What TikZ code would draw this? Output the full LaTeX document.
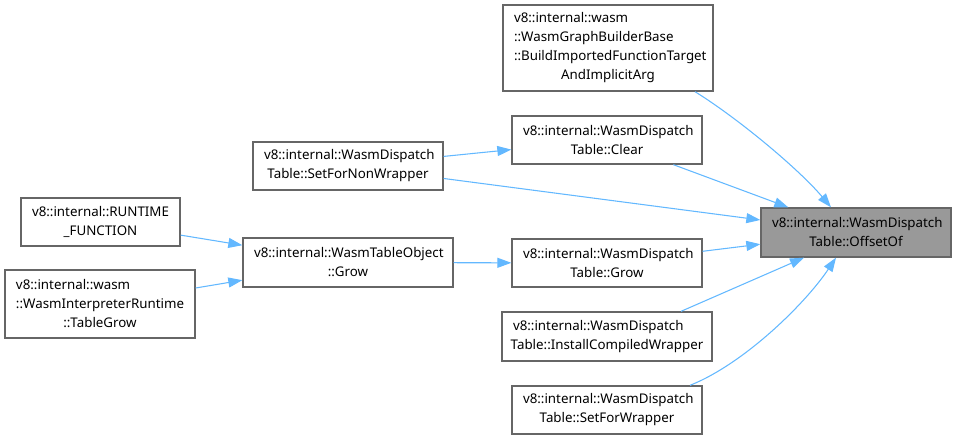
\documentclass[tikz,border=0pt]{standalone}
\usepackage{fontspec}
\setmainfont{Noto Sans}
\usepackage{xcolor}
\definecolor{boxline}{HTML}{666666}
\definecolor{boxfill}{HTML}{999999}
\definecolor{callline}{HTML}{63B8FF}
\usepackage{tikz}
\usetikzlibrary{arrows.meta, positioning, calc}
\newcommand{\lastln}[1]{\makebox[\linewidth]{#1}}

\begin{document}
\begin{tikzpicture}[x=0.75pt, y=-0.75pt, >={Triangle[length=10.5pt, width=7.5pt]},
    fn/.style={draw=boxline, fill=white, line width=1pt, align=left,
               inner xsep=8.25pt, inner ysep=0pt, minimum height=36pt,
               font=\fontsize{10}{14.25}\selectfont},
    call/.style={->, draw=callline, line width=0.8pt}]
  \useasboundingbox (0,0) rectangle (957,440);

  \node[fn, fill=boxfill, text width=126pt, minimum height=36.75pt] (offsetof) at (856,232.5)
    {v8::internal::WasmDispatch\\\lastln{Table::OffsetOf}};

  \node[fn, text width=141pt, minimum height=64.5pt] (build) at (608,48)
    {v8::internal::wasm\\::WasmGraphBuilderBase\\::BuildImportedFunctionTarget\\\lastln{AndImplicitArg}};
  \node[fn, text width=126pt] (clear) at (607,140)
    {v8::internal::WasmDispatch\\\lastln{Table::Clear}};
  \node[fn, text width=126pt] (dgrow) at (607,263)
    {v8::internal::WasmDispatch\\\lastln{Table::Grow}};
  \node[fn, text width=141pt, minimum height=36.75pt] (install) at (607,336.5)
    {v8::internal::WasmDispatch\\\lastln{Table::InstallCompiledWrapper}};
  \node[fn, text width=126pt] (sfw) at (607,410)
    {v8::internal::WasmDispatch\\\lastln{Table::SetForWrapper}};

  \node[fn, text width=126pt] (sfnw) at (348,166)
    {v8::internal::WasmDispatch\\\lastln{Table::SetForNonWrapper}};
  \node[fn, text width=141pt, minimum height=36.75pt] (togrow) at (348,262.5)
    {v8::internal::WasmTableObject\\\lastln{::Grow}};

  \node[fn, text width=102.75pt] (runtime) at (100.5,222)
    {v8::internal::RUNTIME\\\lastln{\_FUNCTION}};
  \node[fn, text width=126pt, minimum height=51pt] (tablegrow) at (100,304)
    {v8::internal::wasm\\::WasmInterpreterRuntime\\\lastln{::TableGrow}};

  \draw[call] ([xshift=65.25pt]build.south) .. controls +(45,28) and +(-31,-37)
    .. ([xshift=-18.75pt]offsetof.north);
  \draw[call] (clear) -- (offsetof);
  \draw[call] (sfnw) -- (clear);
  \draw[call] (sfnw) -- (offsetof);
  \draw[call] (dgrow) -- (offsetof);
  \draw[call] ([xshift=55.5pt]install.north) -- ([xshift=-39pt]offsetof.south);
  \draw[call] ([xshift=62.25pt]sfw.north) .. controls +(55,-22) and +(-30,45)
    .. ([xshift=-15pt]offsetof.south);
  \draw[call] (togrow) -- (dgrow);
  \draw[call] (runtime) -- (togrow);
  \draw[call] (tablegrow) -- (togrow);
\end{tikzpicture}
\end{document}
